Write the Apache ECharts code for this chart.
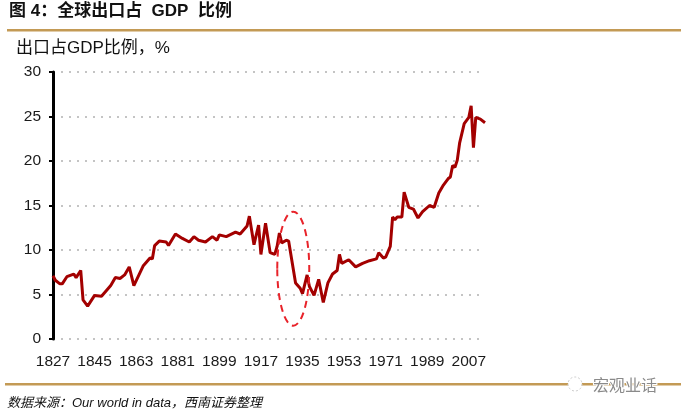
<!DOCTYPE html>
<html><head><meta charset="utf-8">
<script src="https://cdn.jsdelivr.net/npm/echarts@6/dist/echarts.min.js"></script>
<style>html,body{margin:0;padding:0;background:#fff}#c{width:681px;height:418px}</style>
</head><body><div id="c"></div>
<script>
const titleText = '图 4：全球出口占  GDP  比例';
const axisTitle = '出口占GDP比例，%';
const sourceText = '数据来源：Our world in data，西南证券整理';
const watermark = '宏观业话';

const years = [1827,1828,1830,1831,1833,1836,1837,1839,1840,1842,1845,1848,1852,1854,1856,1858,1860,1862,1866,1869,1870,1871,1873,1876,1877,1880,1883,1886,1888,1890,1893,1896,1898,1899,1902,1906,1908,1911,1912,1914,1916,1917,1919,1921,1923,1924,1925,1926,1928,1929,1932,1934,1935,1937,1938,1940,1942,1944,1946,1948,1950,1951,1952,1955,1958,1961,1964,1967,1968,1970,1971,1973,1974,1975,1976,1978,1979,1981,1983,1985,1987,1990,1992,1994,1996,1998,1999,2000,2001,2002,2003,2005,2007,2008,2009,2010,2012,2014];
const exportShare = [7.1,6.6,6.2,6.2,7.0,7.3,6.9,7.7,4.4,3.7,4.9,4.8,6.0,6.9,6.8,7.2,8.1,6.0,8.2,9.1,9.0,10.5,11.0,10.9,10.5,11.8,11.3,10.9,11.5,11.1,10.9,11.5,11.1,11.7,11.5,12.0,11.8,12.7,13.8,10.6,12.8,9.5,13.0,9.7,9.5,10.4,11.9,10.8,11.1,11.0,6.3,5.7,5.1,7.2,5.9,4.9,6.7,4.1,6.3,7.3,7.7,9.5,8.5,8.9,8.1,8.5,8.8,9.0,9.7,9.1,9.2,10.4,13.7,13.4,13.7,13.7,16.5,14.8,14.6,13.6,14.3,15.0,14.8,16.4,17.3,18.0,18.2,19.5,19.3,20.1,22.0,24.2,24.9,26.2,21.5,24.9,24.7,24.3];
const xStart = 1827, xEnd = 2014, xStep = 18;
const yMin = 0, yMax = 30, yStep = 5;
// annotation ellipse centre (in data units)
const highlightYear = 1931, highlightValue = 7.9;

const seriesData = years.map((y,i)=>[y, exportShare[i]]);
const chart = echarts.init(document.getElementById('c'), null, {renderer:'canvas'});
const gold = '#c39a55';
const font = '"Liberation Sans", Arial, sans-serif';
const cjk = '"Liberation Sans","Noto Sans CJK SC", sans-serif';

chart.setOption({
  animation:false,
  backgroundColor:'#fff',
  grid:{left:53, right:196, top:72, bottom:79, containLabel:false},
  xAxis:{type:'value', min:xStart, max:xEnd, interval:xStep,
    axisLine:{show:false}, axisTick:{show:false}, splitLine:{show:false},
    axisLabel:{showMaxLabel:false, color:'#1a1a1a', fontSize:15.5, fontFamily:font, margin:15,
      formatter:v=>String(v)}},
  yAxis:{type:'value', min:yMin, max:yMax, interval:yStep,
    axisLine:{show:true, lineStyle:{color:'#000', width:3}},
    axisTick:{show:true, length:4, inside:false, lineStyle:{color:'#000', width:2}},
    axisLabel:{color:'#1a1a1a', fontSize:15.5, fontFamily:font, margin:12},
    splitLine:{show:true, lineStyle:{color:'#c4c4c4', width:2, type:[2,6]}}},
  series:[{type:'line', data:seriesData, showSymbol:false, symbol:'none',
    lineStyle:{color:'#a30000', width:3}, z:5}],
  graphic:[
    {type:'text', left:9, top:3, style:{text:titleText, font:'bold 17px ' + cjk, fill:'#111'}},
    {type:'rect', shape:{x:7, y:29, width:674, height:2.5}, style:{fill:gold}},
    {type:'text', left:16, top:40, style:{text:axisTitle, font:'17px ' + cjk, fill:'#111'}},
    {type:'rect', shape:{x:5, y:383, width:676, height:2.5}, style:{fill:gold}},
    {type:'text', left:7, top:397, style:{text:sourceText, font:'italic 13px ' + cjk, fill:'#111'}},
    {type:'circle', shape:{cx:575, cy:384, r:7}, style:{fill:'#fff', stroke:'#ccc', lineWidth:1, lineDash:[2,2]}},
    {type:'text', left:592, top:376, style:{text:watermark, font:'16px "Noto Sans CJK SC", sans-serif', fill:'#8a8a8a', stroke:'#fff', lineWidth:2}}
  ]
});
const c = chart.convertToPixel({gridIndex:0}, [highlightYear, highlightValue]);
chart.setOption({graphic:[{type:'ellipse', id:'hl', shape:{cx:c[0], cy:c[1], rx:16, ry:57},
  style:{fill:'none', stroke:'#e8232a', lineWidth:2, lineDash:[7,5]}, z:10}]});
</script></body></html>
